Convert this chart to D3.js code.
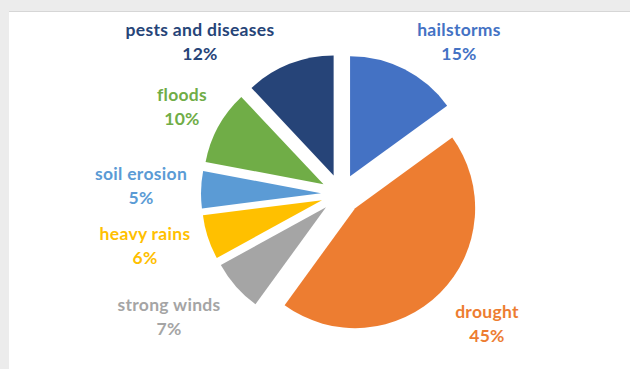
<!DOCTYPE html>
<html>
<head>
<meta charset="utf-8">
<script src="https://cdn.jsdelivr.net/npm/d3@7"></script>
<style>
  html, body { margin: 0; padding: 0; background: #ececec; }
  #chart { width: 630px; height: 369px; }
  text { font-family: Lato, "Open Sans", sans-serif; font-weight: 700; font-size: 17.5px; letter-spacing: 0.3px; }
</style>
</head>
<body>
<div id="chart"></div>
<script>
// data, clockwise from 12 o'clock
const categories = ["hailstorms", "drought", "strong winds", "heavy rains", "soil erosion", "floods", "pests and diseases"];
const shares = [15, 45, 7, 6, 5, 10, 12];
const colors = ["#4472C4", "#ED7D31", "#A5A5A5", "#FFC000", "#5B9BD5", "#70AD47", "#264478"];

// where the two-line label of each slice sits (centre of first line)
const labelAnchors = [[459, 36], [487, 318], [169, 311], [145, 240], [141, 180], [182, 101], [200, 36]];

const W = 630, H = 369;
const cx = 341, cy = 194;
const radius = 120;
const explode = 20;

const svg = d3.select("#chart").append("svg")
              .attr("width", W)
              .attr("height", H);

// white panel with faint top border
svg.append("rect")
   .attr("x", 9).attr("y", 11)
   .attr("width", W - 9).attr("height", H - 11)
   .attr("fill", "#ffffff");
svg.append("line")
   .attr("x1", 9).attr("x2", W)
   .attr("y1", 11.5).attr("y2", 11.5)
   .attr("stroke", "#d6d6d6");

const colorScale = d3.scaleOrdinal(categories, colors);

const pie = d3.pie()
              .sort(null)
              .value(d => d.value)
              .startAngle(0)
              .endAngle(2 * Math.PI);

const slices = pie(categories.map((c, i) => ({name: c, value: shares[i]})));

const arc = d3.arc().innerRadius(0).outerRadius(radius);
// used only for the explosion offset of each slice
const offsetArc = d3.arc().innerRadius(explode).outerRadius(explode);

const g = svg.append("g")
             .attr("transform", "translate(" + cx + "," + cy + ")");

g.selectAll("path.slice")
 .data(slices)
 .enter()
 .append("path")
 .attr("class", "slice")
 .attr("d", arc)
 .attr("fill", d => colorScale(d.data.name))
 .attr("transform", d => {
   const [dx, dy] = offsetArc.centroid(d);
   return "translate(" + dx + "," + dy + ")";
 });

// labels
const labels = svg.selectAll("text.lbl")
                  .data(slices)
                  .enter()
                  .append("text")
                  .attr("class", "lbl")
                  .attr("text-anchor", "middle")
                  .attr("fill", d => colorScale(d.data.name));

labels.append("tspan")
      .attr("x", (d, i) => labelAnchors[i][0])
      .attr("y", (d, i) => labelAnchors[i][1])
      .text(d => d.data.name);

labels.append("tspan")
      .attr("x", (d, i) => labelAnchors[i][0])
      .attr("y", (d, i) => labelAnchors[i][1] + 24)
      .text(d => d.data.value + "%");
</script>
</body>
</html>
